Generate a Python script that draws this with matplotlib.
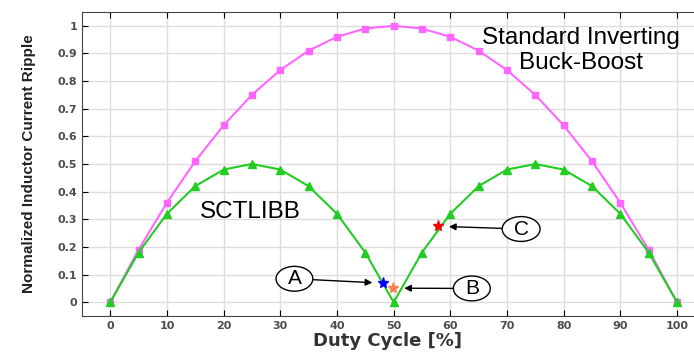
import numpy as np
import matplotlib.pyplot as plt
from matplotlib.path import Path
from matplotlib.transforms import Affine2D

duty = [0, 5, 10, 15, 20, 25, 30, 35, 40, 45, 50, 55, 60, 65, 70, 75, 80, 85, 90, 95, 100]
standard = [0, 0.19, 0.36, 0.51, 0.64, 0.75, 0.84, 0.91, 0.96, 0.99, 1.0,
            0.99, 0.96, 0.91, 0.84, 0.75, 0.64, 0.51, 0.36, 0.19, 0]
sctlibb = [0, 0.18, 0.32, 0.42, 0.48, 0.50, 0.48, 0.42, 0.32, 0.18, 0,
           0.18, 0.32, 0.42, 0.48, 0.50, 0.48, 0.42, 0.32, 0.18, 0]

# operating points A, B, C
pt_labels = ['A', 'B', 'C']
pt_x = [48.2, 49.9, 57.8]
pt_y = [0.069, 0.051, 0.275]
pt_colors = ['blue', '#ff7f50', 'red']
lbl_x = [32.5, 63.8, 72.5]
lbl_y = [0.085, 0.05, 0.265]


def flat_ellipse(x0, y0, width, height, mutation_size):
    # wide ellipse around the letter
    rx = width / 2 + 0.55 * mutation_size
    ry = height / 2 + 0.14 * mutation_size
    tr = Affine2D().scale(rx, ry).translate(x0 + width / 2, y0 + height / 2)
    return tr.transform_path(Path.unit_circle())


fig = plt.figure(figsize=(6.94, 3.52), dpi=100)
ax = fig.add_axes([0.118, 0.102, 0.882, 0.864])

ax.plot(duty, standard, color='#ff66ff', linewidth=1.5, marker='s', markersize=5)
ax.plot(duty, sctlibb, color='#22cc22', linewidth=1.5, marker='^', markersize=6)

for i in range(3):
    ax.plot(pt_x[i], pt_y[i], marker='*', color=pt_colors[i], markersize=8, linestyle='none')
    ax.annotate(pt_labels[i], xy=(pt_x[i], pt_y[i]),
                xytext=(lbl_x[i], lbl_y[i]), fontsize=15, ha='center', va='center',
                family='Liberation Sans',
                bbox=dict(boxstyle=flat_ellipse, fc='white', ec='black', lw=1),
                arrowprops=dict(arrowstyle='-|>', color='black', lw=1,
                                shrinkA=0, shrinkB=8, mutation_scale=10))

ax.text(24.8, 0.325, 'SCTLIBB', fontsize=17.5, ha='center', va='center', family='Liberation Sans')
ax.text(83, 0.955, 'Standard Inverting', fontsize=17.5, ha='center', va='center', family='Liberation Sans')
ax.text(83, 0.866, 'Buck-Boost', fontsize=17.5, ha='center', va='center', family='Liberation Sans')

ax.set_xlim(-5, 103)
ax.set_ylim(-0.05, 1.05)
ax.set_xticks(np.arange(0, 101, 10))
ax.set_yticks(np.arange(0, 1.01, 0.1))
ax.set_yticklabels(['0', '0.1', '0.2', '0.3', '0.4', '0.5', '0.6', '0.7', '0.8', '0.9', '1'])
ax.grid(True, color='#dddddd', linewidth=1)
ax.set_axisbelow(True)
ax.tick_params(direction='in', top=True, labelsize=8, labelcolor='#4d4d4d', length=4)
for lab in ax.get_xticklabels() + ax.get_yticklabels():
    lab.set_fontweight('bold')
for s in ax.spines.values():
    s.set_color('#444444')
ax.spines['right'].set_visible(False)
ax.set_xlabel('Duty Cycle [%]', fontsize=13, fontweight='bold', color='#333333', labelpad=1)
ax.set_ylabel('Normalized Inductor Current Ripple', fontsize=11, fontweight='bold',
              color='#222222', family='Liberation Sans', labelpad=15)

fig.savefig('out.png', dpi=100)
